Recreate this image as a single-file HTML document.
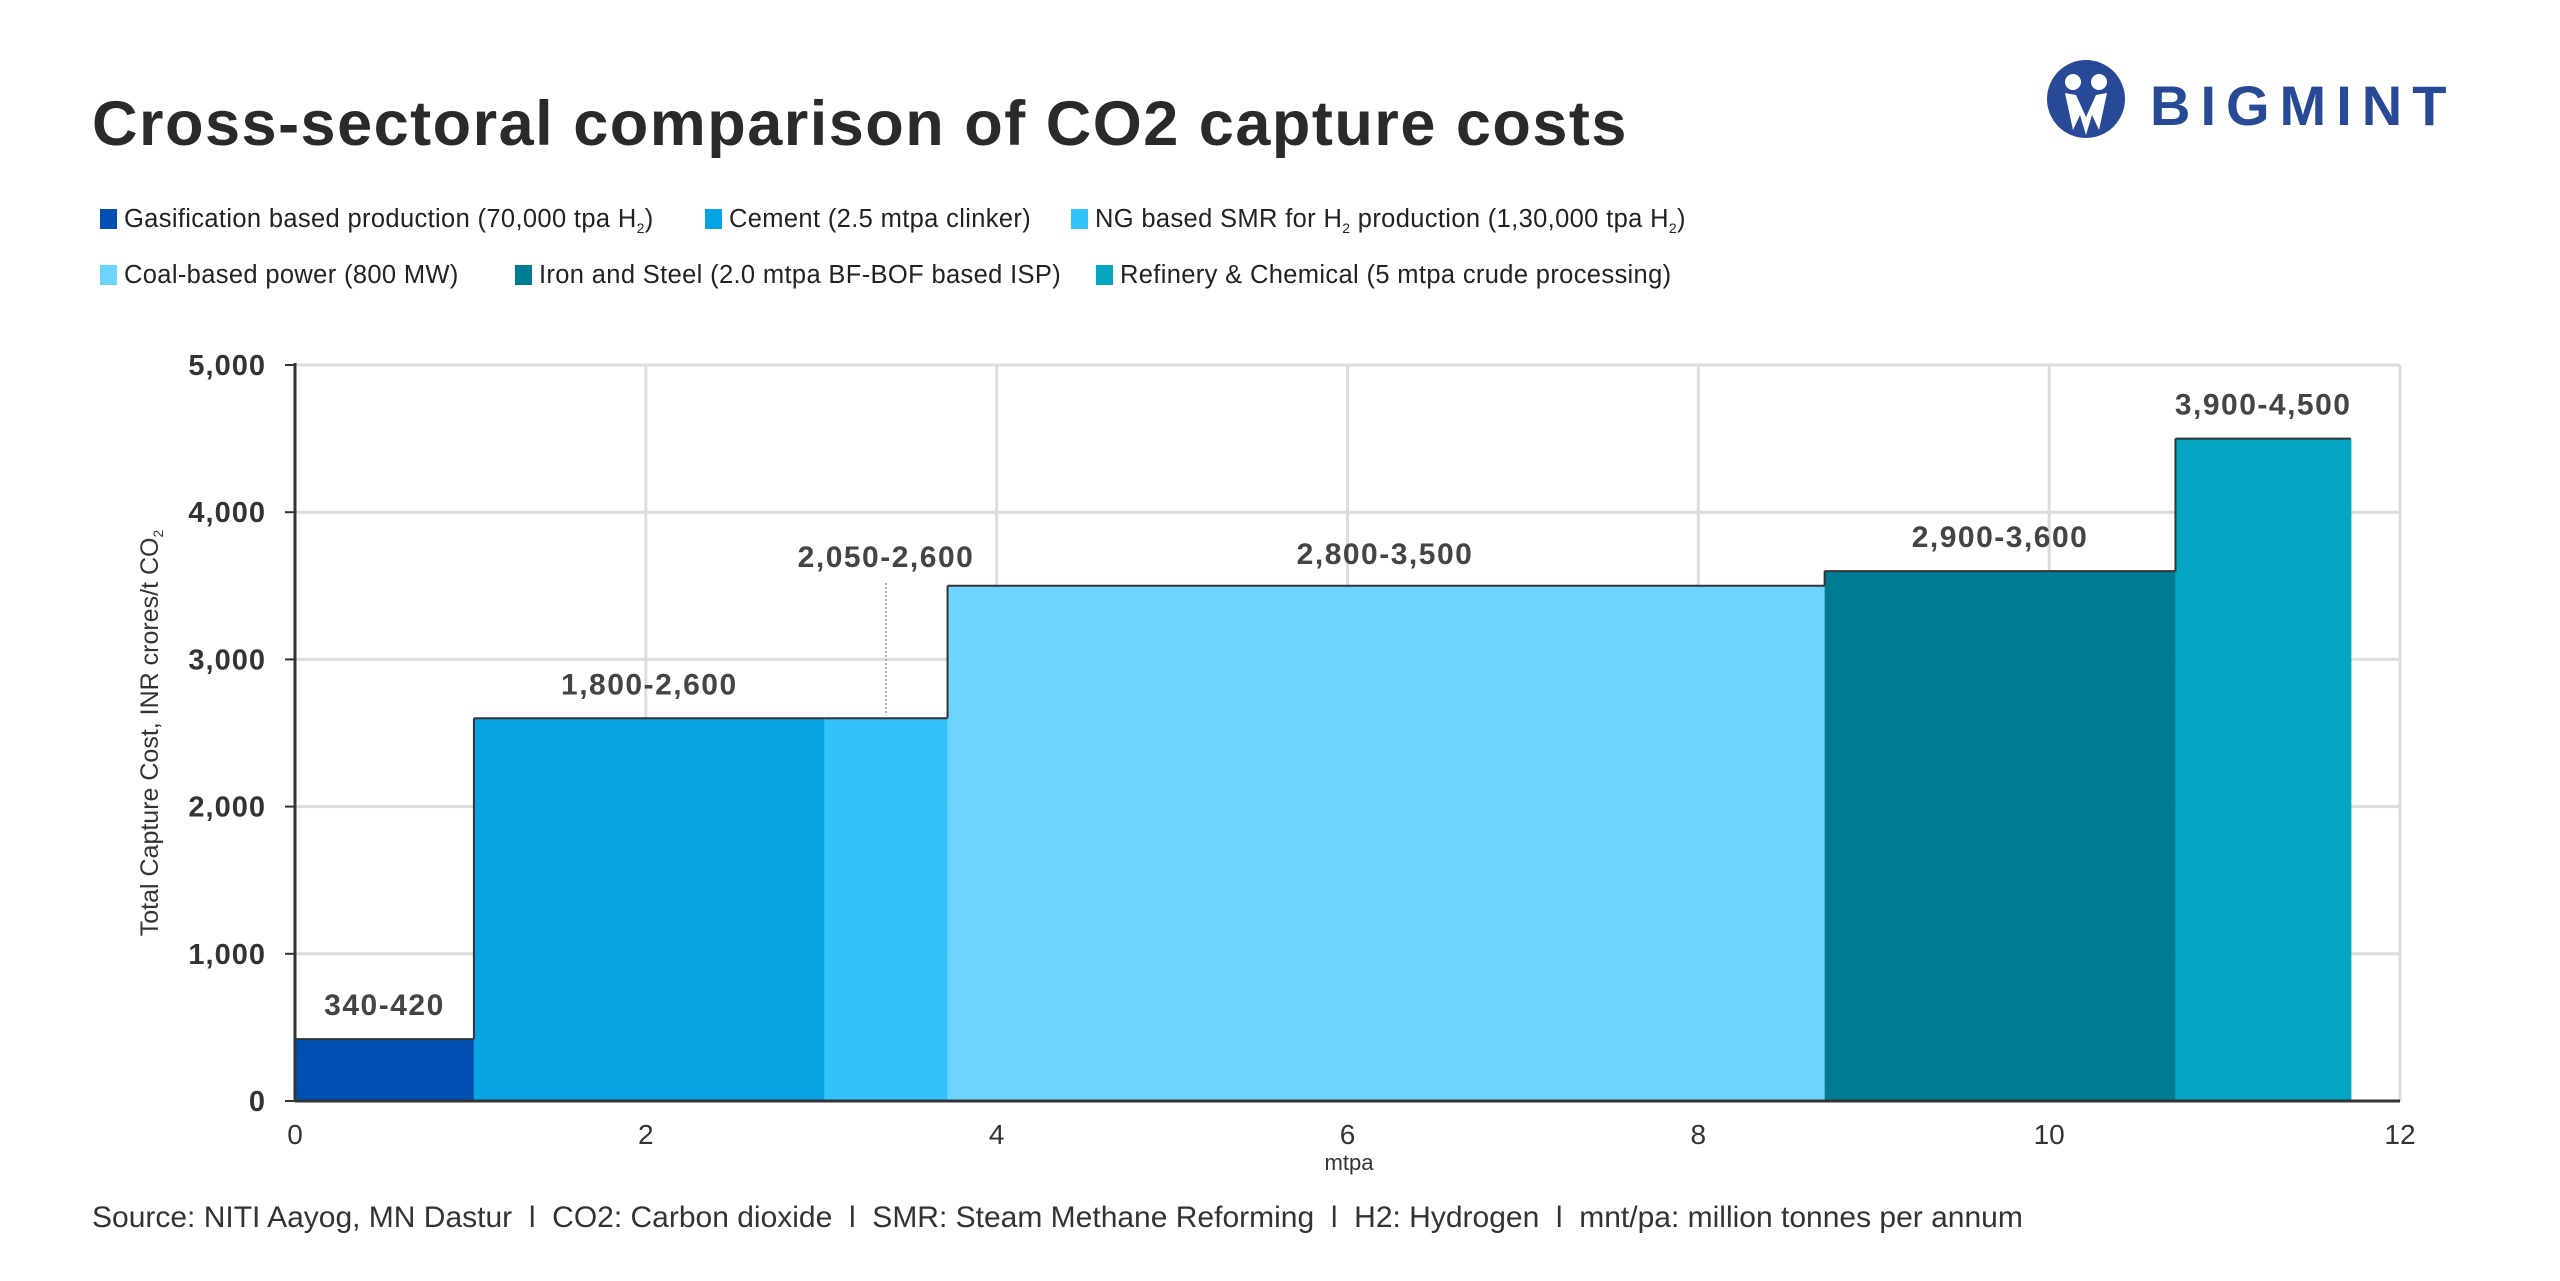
<!DOCTYPE html>
<html><head><meta charset="utf-8">
<style>
html,body{margin:0;padding:0;background:#fff;}
body{width:2560px;height:1281px;position:relative;overflow:hidden;font-family:"Liberation Sans",sans-serif;color:#222;}
.t{position:absolute;white-space:nowrap;}
</style></head>
<body>
<div class="t" style="left:92px;top:88px;font-size:63px;font-weight:bold;color:#2a2a2a;letter-spacing:1.5px;">Cross-sectoral comparison of CO2 capture costs</div>
<svg style="position:absolute;left:2040px;top:55px" width="440" height="90" viewBox="0 0 440 90">
  <circle cx="46" cy="44" r="39" fill="#284a96"/>
  <circle cx="33" cy="27" r="8" fill="#fff"/><circle cx="59" cy="27" r="8" fill="#fff"/>
  <path d="M25 38 L33 75 L40 60 L46 80 L52 60 L59 75 L67 38 L56 40 L46 62 L36 40 Z" fill="#fff"/>
  <text x="110" y="70" font-family="Liberation Sans, sans-serif" font-weight="bold" font-size="56" fill="#284a96" letter-spacing="10">BIGMINT</text>
</svg>
<div id="legend"></div>
<svg id="chart" style="position:absolute;left:0;top:0" width="2560" height="1281"></svg>
<div class="t" style="left:92px;top:1201px;font-size:30px;color:#333;">Source: NITI Aayog, MN Dastur &nbsp;l&nbsp; CO2: Carbon dioxide &nbsp;l&nbsp; SMR: Steam Methane Reforming &nbsp;l&nbsp; H2: Hydrogen &nbsp;l&nbsp; mnt/pa: million tonnes per annum</div>
<script>
const categories=["Gasification based production (70,000 tpa H<sub>2</sub>)","Cement (2.5 mtpa clinker)","NG based SMR for H<sub>2</sub> production (1,30,000 tpa H<sub>2</sub>)","Coal-based power (800 MW)","Iron and Steel (2.0 mtpa BF-BOF based ISP)","Refinery &amp; Chemical (5 mtpa crude processing)"];
const widths=[1.02,2.0,0.7,5.0,2.0,1.0];
const heights=[420,2600,2600,3500,3600,4500];
const rangeLabels=["340-420","1,800-2,600","2,050-2,600","2,800-3,500","2,900-3,600","3,900-4,500"];
const colors=["#0050b3","#07a3e2","#33c3fa","#6dd4ff","#007b94","#05a5c4"];
const xTicks=[0,2,4,6,8,10,12];
const yTicks=[0,1000,2000,3000,4000,5000];
const yTickLabels=["0","1,000","2,000","3,000","4,000","5,000"];

const X0=295,X1=2400,Y0=1101,Y1=365;
const xs=v=>X0+(X1-X0)*v/12;
const ys=v=>Y0-(Y0-Y1)*v/5000;
const NS="http://www.w3.org/2000/svg";
const svg=document.getElementById('chart');
function mk(tag,attrs){const e=document.createElementNS(NS,tag);for(const k in attrs)e.setAttribute(k,attrs[k]);svg.appendChild(e);return e;}

const leg=document.getElementById('legend');
const legPos=[[100,205],[705,205],[1071,205],[100,261],[515,261],[1096,261]];
categories.forEach((c,i)=>{
  const d=document.createElement('div');
  
  
  d.className='t';
  d.style.cssText=`left:${legPos[i][0]}px;top:${legPos[i][1]}px;font-size:25.5px;color:#222;letter-spacing:0.35px;`;
  d.innerHTML=`<span style="display:inline-block;width:17px;height:20px;background:${colors[i]};margin-right:7px;vertical-align:-2px"></span>${c}`;
  d.querySelectorAll('sub').forEach(s=>{s.style.fontSize='14px';});
  leg.appendChild(d);
});

yTicks.forEach((v,i)=>{
  if(v>0){const l=mk('line',{x1:X0,x2:X1,y1:ys(v),y2:ys(v),stroke:'#dcdcdc','stroke-width':3});
  }
  const t=mk('text',{x:266,y:ys(v)+10,'text-anchor':'end','font-size':29,'font-weight':'bold',fill:'#333','font-family':'Liberation Sans, sans-serif','letter-spacing':1});
  t.textContent=yTickLabels[i];
  
  mk('line',{x1:X0-10,x2:X0,y1:ys(v),y2:ys(v),stroke:'#333','stroke-width':2});
});
xTicks.forEach(v=>{
  if(v>0){const l=mk('line',{x1:xs(v),x2:xs(v),y1:Y1,y2:Y0,stroke:'#dcdcdc','stroke-width':3});
  }
  const t=mk('text',{x:xs(v),y:1144,'text-anchor':'middle','font-size':28,fill:'#333','font-family':'Liberation Sans, sans-serif'});
  t.textContent=v;
  
});

let cum=0;
widths.forEach((w,i)=>{
  const x=xs(cum),x2=xs(cum+w),y=ys(heights[i]);
  const r=mk('rect',{x:x,y:y,width:x2-x,height:Y0-y,fill:colors[i]});
  
  const prevH=i>0?heights[i-1]:0;
  mk('line',{x1:x,x2:x2,y1:y,y2:y,stroke:'#333','stroke-width':2});
  if(heights[i]!==prevH) mk('line',{x1:x,x2:x,y1:y,y2:ys(prevH),stroke:'#333','stroke-width':2});
  let lx=(x+x2)/2, ly=y-24;
  if(i===2){lx=886;ly=ys(heights[3])-19;
    mk('line',{x1:lx,x2:lx,y1:583,y2:y-3,stroke:'#999','stroke-width':1.5,'stroke-dasharray':'2,2'});}
  if(i===3){lx=1385;ly=y-22;}
  const t=mk('text',{x:lx,y:ly,'text-anchor':'middle','font-size':30,'font-weight':'bold',fill:'#444','font-family':'Liberation Sans, sans-serif','letter-spacing':1.5});
  t.textContent=rangeLabels[i];
  
  cum+=w;
});
mk('line',{x1:xs(cum),x2:xs(cum),y1:ys(heights[5]),y2:Y0,stroke:'#05a5c4','stroke-width':1});

const ya=mk('line',{x1:X0,x2:X0,y1:Y1-2,y2:Y0,stroke:'#333','stroke-width':3});

const xa=mk('line',{x1:X0,x2:X1,y1:Y0,y2:Y0,stroke:'#333','stroke-width':3});


const xt=mk('text',{x:1349,y:1170,'text-anchor':'middle','font-size':22,fill:'#333','font-family':'Liberation Sans, sans-serif'});
xt.textContent='mtpa';
const yt=mk('text',{x:0,y:0,'text-anchor':'middle','font-size':25,fill:'#333','font-family':'Liberation Sans, sans-serif',transform:'translate(158,733) rotate(-90)'});
yt.innerHTML='Total Capture Cost, INR crores/t CO<tspan font-size="14" dy="5">2</tspan>';

</script>
</body></html>
